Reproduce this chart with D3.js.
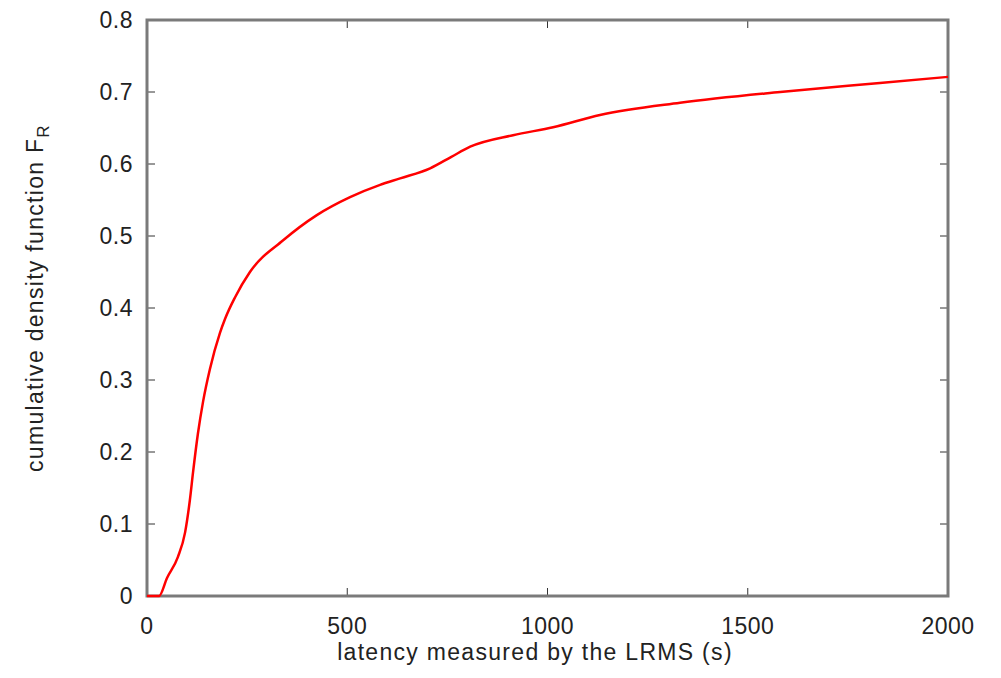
<!DOCTYPE html>
<html>
<head>
<meta charset="utf-8">
<script src="https://cdn.jsdelivr.net/npm/d3@7"></script>
<style>
  body { margin: 0; background: #fff; }
  svg { display: block; font-family: "Liberation Sans", Arial, sans-serif; }
</style>
</head>
<body>
<div id="chart"></div>
<script>
// latency (s) vs cumulative density F_R
const latency = [0, 30, 50, 77, 95, 107, 115, 127, 140, 157, 182, 195, 220, 257, 340, 424, 507, 582, 632, 707, 760, 807, 914, 1014, 1131, 1331, 1581, 1830, 2000];
const cdf = [0, 0, 0.025, 0.054, 0.088, 0.133, 0.172, 0.225, 0.27, 0.315, 0.365, 0.385, 0.415, 0.45, 0.494, 0.529, 0.554, 0.571, 0.580, 0.594, 0.610, 0.624, 0.640, 0.651, 0.668, 0.685, 0.700, 0.7125, 0.721];
const xTicks = [0, 500, 1000, 1500, 2000];
const yTicks = [0, 0.1, 0.2, 0.3, 0.4, 0.5, 0.6, 0.7, 0.8];

const width = 1001;
const height = 678;
const margin = { top: 20, right: 53, bottom: 82, left: 147 };

const svg = d3.select("#chart")
    .append("svg")
    .attr("width", width)
    .attr("height", height);

const x = d3.scaleLinear()
    .domain([0, 2000])
    .range([margin.left, width - margin.right]);

const y = d3.scaleLinear()
    .domain([0, 0.8])
    .range([height - margin.bottom, margin.top]);

// inward ticks (gnuplot style)
const tickLen = 8;
const ticks = svg.append("g")
    .attr("stroke", "#333")
    .attr("stroke-width", 1);

ticks.selectAll("line.yl")
    .data(yTicks)
    .join("line")
    .attr("class", "yl")
    .attr("x1", x(0)).attr("x2", x(0) + tickLen)
    .attr("y1", d => y(d)).attr("y2", d => y(d));

ticks.selectAll("line.yr")
    .data(yTicks)
    .join("line")
    .attr("class", "yr")
    .attr("x1", x(2000)).attr("x2", x(2000) - tickLen)
    .attr("y1", d => y(d)).attr("y2", d => y(d));

ticks.selectAll("line.xb")
    .data(xTicks)
    .join("line")
    .attr("class", "xb")
    .attr("x1", d => x(d)).attr("x2", d => x(d))
    .attr("y1", y(0)).attr("y2", y(0) - tickLen);

ticks.selectAll("line.xt")
    .data(xTicks)
    .join("line")
    .attr("class", "xt")
    .attr("x1", d => x(d)).attr("x2", d => x(d))
    .attr("y1", y(0.8)).attr("y2", y(0.8) + tickLen);

// tick labels
svg.append("g")
    .attr("fill", "#222")
    .attr("font-size", "23px")
    .attr("letter-spacing", "0.5px")
    .attr("text-anchor", "end")
    .selectAll("text")
    .data(yTicks)
    .join("text")
    .attr("x", x(0) - 14)
    .attr("y", d => y(d))
    .attr("dy", "0.35em")
    .text(d => d === 0 ? "0" : d3.format(".1f")(d));

svg.append("g")
    .attr("fill", "#222")
    .attr("font-size", "23px")
    .attr("letter-spacing", "0.5px")
    .attr("text-anchor", "middle")
    .selectAll("text")
    .data(xTicks)
    .join("text")
    .attr("x", d => x(d))
    .attr("y", y(0) + 38)
    .text(d => d);

// frame
svg.append("rect")
    .attr("x", x(0))
    .attr("y", y(0.8))
    .attr("width", x(2000) - x(0))
    .attr("height", y(0) - y(0.8))
    .attr("fill", "none")
    .attr("stroke", "#7a7a7a")
    .attr("stroke-width", 3);

// the curve
const line = d3.line()
    .x(d => x(d[0]))
    .y(d => y(d[1]))
    .curve(d3.curveMonotoneX);

svg.append("path")
    .datum(latency.map((l, i) => [l, cdf[i]]))
    .attr("fill", "none")
    .attr("stroke", "#ff0000")
    .attr("stroke-width", 2.5)
    .attr("stroke-linejoin", "round")
    .attr("d", line);

// axis titles
svg.append("text")
    .attr("x", 535)
    .attr("y", 660)
    .attr("text-anchor", "middle")
    .attr("font-size", "23px")
    .attr("letter-spacing", "1.3px")
    .attr("fill", "#222")
    .text("latency measured by the LRMS (s)");

const yTitle = svg.append("text")
    .attr("transform", `translate(43,298) rotate(-90)`)
    .attr("text-anchor", "middle")
    .attr("font-size", "23px")
    .attr("letter-spacing", "1.3px")
    .attr("fill", "#222");
yTitle.append("tspan").text("cumulative density function F");
yTitle.append("tspan")
    .attr("font-size", "17px")
    .attr("dy", "6")
    .text("R");
</script>
</body>
</html>
